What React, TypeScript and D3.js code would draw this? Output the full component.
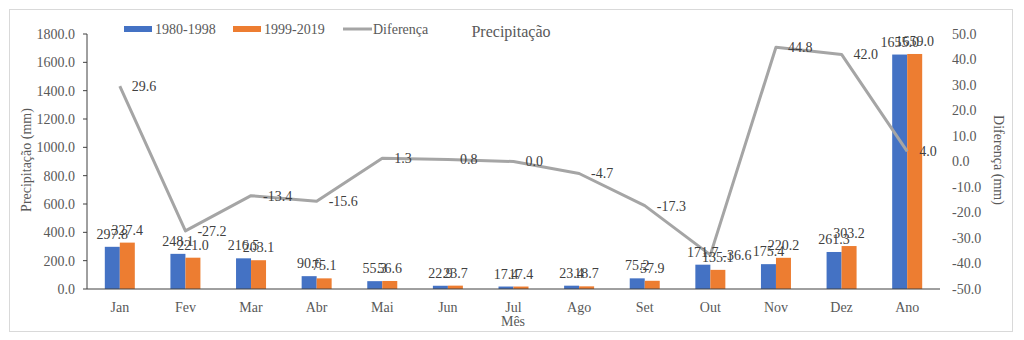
import React from "react";
import * as d3 from "d3";

const categories = ["Jan", "Fev", "Mar", "Abr", "Mai", "Jun", "Jul", "Ago", "Set", "Out", "Nov", "Dez", "Ano"];
const serieA = [297.8, 248.1, 216.5, 90.6, 55.3, 22.9, 17.4, 23.4, 75.2, 171.7, 175.4, 261.3, 1655.0];
const serieB = [327.4, 221.0, 203.1, 75.1, 56.6, 23.7, 17.4, 18.7, 57.9, 135.1, 220.2, 303.2, 1659.0];
const diferenca = [29.6, -27.2, -13.4, -15.6, 1.3, 0.8, 0.0, -4.7, -17.3, -36.6, 44.8, 42.0, 4.0];
const leftTicks = [0, 200, 400, 600, 800, 1000, 1200, 1400, 1600, 1800];
const rightTicks = [-50, -40, -30, -20, -10, 0, 10, 20, 30, 40, 50];

const FONT = "'Liberation Serif', 'Times New Roman', serif";
const BLUE = "#4472C4";
const ORANGE = "#ED7D31";
const GRAY = "#A5A5A5";
const TXT = "#595959";
const LBL = "#404040";

export default function App() {
  const left = 87, right = 940, top = 34, bottom = 289;
  const x = d3.scaleBand<string>().domain(categories).range([left, right]).paddingInner(0).paddingOuter(0);
  const yL = d3.scaleLinear().domain([0, 1800]).range([bottom, top]);
  const yR = d3.scaleLinear().domain([-50, 50]).range([bottom, top]);
  const bw = 15;
  const cx = (c: string) => (x(c) as number) + x.bandwidth() / 2;
  const line = d3.line<number>().x((_, i) => cx(categories[i])).y((d) => yR(d));

  return (
    <svg width={1024} height={340} style={{ position: "absolute", left: 0, top: 0 }} fontFamily={FONT}>
      <rect x={0} y={0} width={1024} height={340} fill="#fff" />
      <rect x={9.5} y={9.5} width={1003} height={322} fill="#fff" stroke="#D9D9D9" strokeWidth={1} />

      {/* left axis */}
      <line x1={left} x2={left} y1={top} y2={bottom} stroke="#404040" strokeWidth={1} />
      {leftTicks.map((t) => (
        <g key={"l" + t}>
          <line x1={left - 4} x2={left} y1={yL(t)} y2={yL(t)} stroke="#404040" />
          <text x={left - 12} y={yL(t)} dy="0.35em" textAnchor="end" fontSize={14} fill={TXT}>
            {t.toFixed(1)}
          </text>
        </g>
      ))}
      {rightTicks.map((t) => (
        <text key={"r" + t} x={952} y={yR(t)} dy="0.35em" textAnchor="start" fontSize={14} fill={TXT}>
          {t.toFixed(1)}
        </text>
      ))}

      {/* bars */}
      {categories.map((c, i) => (
        <g key={c}>
          <rect x={cx(c) - bw} y={yL(serieA[i])} width={bw} height={bottom - yL(serieA[i])} fill={BLUE} />
          <rect x={cx(c)} y={yL(serieB[i])} width={bw} height={bottom - yL(serieB[i])} fill={ORANGE} />
        </g>
      ))}

      {/* x axis */}
      <line x1={left} x2={right} y1={bottom} y2={bottom} stroke="#404040" strokeWidth={1} />
      {categories.map((c) => (
        <text key={"x" + c} x={cx(c)} y={312} textAnchor="middle" fontSize={14} fill={TXT}>
          {c}
        </text>
      ))}

      {/* line */}
      <path d={line(diferenca) as string} fill="none" stroke={GRAY} strokeWidth={3} strokeLinejoin="round" />

      {/* bar labels */}
      {categories.map((c, i) => (
        <g key={"bl" + c}>
          <text x={cx(c) - bw / 2} y={yL(serieA[i]) - 8} textAnchor="middle" fontSize={14} fill={LBL}>
            {serieA[i].toFixed(1)}
          </text>
          <text x={cx(c) + bw / 2} y={yL(serieB[i]) - 8} textAnchor="middle" fontSize={14} fill={LBL}>
            {serieB[i].toFixed(1)}
          </text>
        </g>
      ))}

      {/* line labels */}
      {categories.map((c, i) => (
        <text key={"ll" + c} x={cx(c) + 12} y={yR(diferenca[i])} dy="0.35em" textAnchor="start" fontSize={14} fill={LBL}>
          {diferenca[i].toFixed(1)}
        </text>
      ))}

      {/* axis titles */}
      <text transform="translate(31,160) rotate(-90)" textAnchor="middle" fontSize={14} fill={TXT}>
        Precipitação (mm)
      </text>
      <text transform="translate(994,160) rotate(90)" textAnchor="middle" fontSize={14} fill={TXT}>
        Diferença (mm)
      </text>
      <text x={513} y={326} textAnchor="middle" fontSize={14} fill={TXT}>
        Mês
      </text>

      {/* legend */}
      <rect x={124} y={26} width={28} height={6} fill={BLUE} />
      <text x={155} y={29} dy="0.35em" fontSize={14} fill={TXT}>1980-1998</text>
      <rect x={233} y={26} width={28} height={6} fill={ORANGE} />
      <text x={264} y={29} dy="0.35em" fontSize={14} fill={TXT}>1999-2019</text>
      <line x1={343} x2={372} y1={29} y2={29} stroke={GRAY} strokeWidth={3} />
      <text x={373} y={29} dy="0.35em" fontSize={14} fill={TXT}>Diferença</text>

      {/* title */}
      <text x={511} y={31} dy="0.35em" textAnchor="middle" fontSize={16} fill={TXT}>
        Precipitação
      </text>
    </svg>
  );
}
